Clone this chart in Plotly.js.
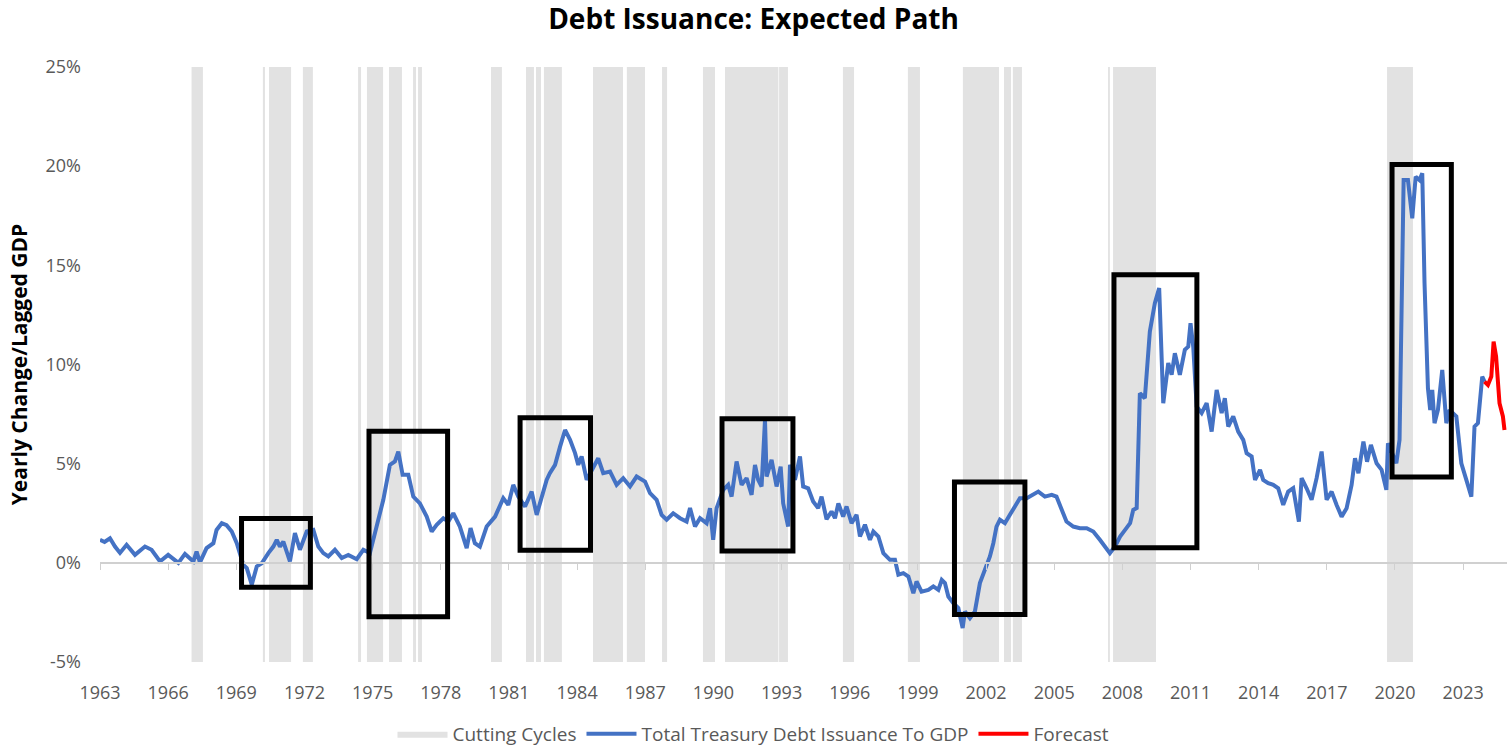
<!DOCTYPE html>
<html>
<head>
<meta charset="utf-8">
<script src="https://cdn.plot.ly/plotly-3.0.1.min.js"></script>
<style>html,body{margin:0;padding:0;background:#fff;}#chart{width:1507px;height:753px;}</style>
</head>
<body>
<div id="chart"></div>
<script>
// ---- data ----
const years = [
1963.00,1963.20,1963.44,1963.66,1963.88,1964.17,1964.54,1964.98,1965.27,1965.64,1966.00,1966.45,1966.74,1967.11,1967.25,1967.40,1967.69,1967.99,
1968.13,1968.36,1968.57,1968.80,1969.02,1969.31,1969.46,1969.68,1969.90,1970.12,1970.41,1970.63,1970.78,1970.92,1971.07,1971.36,1971.58,1971.80,
1972.10,1972.39,1972.61,1972.83,1973.05,1973.34,1973.64,1973.93,1974.30,1974.59,1974.88,1975.18,1975.47,1975.76,1975.98,1976.13,1976.32,1976.57,
1976.79,1977.08,1977.38,1977.60,1977.82,1978.11,1978.33,1978.55,1978.84,1979.14,1979.31,1979.50,1979.72,1980.02,1980.39,1980.75,1980.97,1981.19,
1981.41,1981.71,1982.00,1982.22,1982.44,1982.66,1982.80,1983.03,1983.25,1983.47,1983.69,1983.91,1984.05,1984.20,1984.42,1984.64,1984.93,1985.15,
1985.45,1985.74,1986.03,1986.33,1986.62,1986.99,1987.21,1987.50,1987.72,1987.94,1988.23,1988.53,1988.82,1988.97,1989.19,1989.41,1989.70,1989.85,
1989.99,1990.14,1990.43,1990.65,1990.80,1991.02,1991.24,1991.46,1991.68,1991.83,1991.97,1992.12,1992.27,1992.34,1992.56,1992.78,1992.96,1993.07,
1993.29,1993.37,1993.59,1993.81,1993.95,1994.17,1994.39,1994.61,1994.76,1994.98,1995.20,1995.35,1995.50,1995.71,1995.86,1996.08,1996.30,1996.45,
1996.67,1996.89,1997.04,1997.26,1997.48,1997.77,1997.99,1998.14,1998.36,1998.58,1998.80,1998.94,1999.16,1999.46,1999.68,1999.90,2000.05,2000.19,
2000.34,2000.56,2000.78,2000.97,2001.07,2001.29,2001.51,2001.73,2001.95,2002.17,2002.32,2002.46,2002.61,2002.83,2003.05,2003.27,2003.49,2003.79,
2004.07,2004.30,2004.59,2004.89,2005.10,2005.32,2005.54,2005.84,2006.13,2006.43,2006.72,2007.01,2007.23,2007.45,2007.67,2007.90,2008.12,2008.34,
2008.48,2008.63,2008.77,2008.99,2009.21,2009.43,2009.62,2009.80,2010.02,2010.17,2010.31,2010.53,2010.75,2010.90,2011.00,2011.12,2011.27,2011.49,
2011.71,2011.93,2012.15,2012.37,2012.51,2012.66,2012.88,2013.10,2013.32,2013.47,2013.69,2013.84,2014.06,2014.20,2014.42,2014.64,2014.86,2015.08,
2015.30,2015.52,2015.77,2015.89,2016.11,2016.33,2016.55,2016.77,2016.99,2017.21,2017.43,2017.65,2017.87,2018.09,2018.24,2018.39,2018.61,2018.77,
2018.94,2019.19,2019.41,2019.62,2019.69,2020.06,2020.20,2020.28,2020.38,2020.57,2020.76,2020.91,2021.08,2021.20,2021.30,2021.45,2021.55,2021.64,
2021.74,2021.89,2022.08,2022.26,2022.40,2022.70,2022.92,2023.14,2023.36,2023.50,2023.65,2023.84,2023.94
];
const issuance = [
1.16,1.05,1.24,0.82,0.50,0.91,0.40,0.82,0.66,0.07,0.40,0.00,0.45,0.07,0.57,0.02,0.74,0.99,
1.66,2.00,1.90,1.58,0.99,-0.10,-0.27,-1.10,-0.18,-0.02,0.49,0.82,1.16,0.82,1.07,0.07,1.50,0.66,
1.58,1.66,0.82,0.49,0.32,0.66,0.24,0.40,0.18,0.66,0.49,1.83,3.18,4.94,5.11,5.61,4.44,4.44,
3.34,3.00,2.33,1.58,1.92,2.25,2.08,2.50,1.83,0.74,1.75,0.99,0.82,1.83,2.33,3.26,2.92,3.93,
3.34,2.84,3.59,2.42,3.26,4.18,4.52,4.94,5.86,6.70,6.20,5.53,4.94,5.36,4.18,4.69,5.27,4.52,
4.60,3.93,4.27,3.85,4.35,4.10,3.51,3.18,2.42,2.17,2.50,2.25,2.08,2.76,1.83,2.25,2.00,2.76,
1.16,2.76,3.68,3.93,3.34,5.11,3.93,4.27,3.43,4.94,4.18,3.85,7.20,4.35,5.19,3.85,4.85,3.00,
1.83,4.94,4.18,5.36,3.85,3.76,3.09,2.76,3.34,2.20,2.59,2.25,3.00,2.33,2.84,2.00,2.42,1.33,
1.92,1.16,1.58,1.33,0.49,0.15,0.15,-0.60,-0.52,-0.69,-1.53,-0.94,-1.45,-1.36,-1.19,-1.36,-0.86,-1.02,
-1.70,-2.03,-2.28,-3.29,-2.45,-2.79,-2.45,-1.02,-0.35,0.32,0.99,1.83,2.17,2.00,2.42,2.84,3.26,3.26,
3.43,3.59,3.34,3.43,3.34,2.67,2.08,1.83,1.75,1.75,1.58,1.16,0.82,0.49,0.82,1.33,1.66,2.00,
2.67,2.76,8.55,8.30,11.66,13.09,13.85,8.05,10.07,9.48,10.57,9.48,10.74,10.90,12.08,10.90,7.88,7.55,
8.05,6.62,8.72,7.55,8.30,6.87,7.38,6.62,6.20,5.53,5.36,4.18,4.69,4.18,4.02,3.93,3.76,2.92,
3.59,3.76,2.08,4.27,3.76,3.18,4.27,5.61,3.18,3.59,2.92,2.33,2.75,3.93,5.27,4.52,6.11,5.10,
5.95,5.02,4.69,3.68,6.03,5.02,6.20,12.40,19.30,19.30,17.37,19.47,19.30,19.64,14.10,8.80,7.71,8.72,
7.04,7.71,9.73,7.04,7.71,7.38,5.02,4.18,3.34,6.87,7.04,9.39,9.14
];
const forecastYears = [2023.94,2024.09,2024.24,2024.34,2024.45,2024.60,2024.75,2024.82];
const forecast = [9.14,8.97,9.39,11.15,10.40,8.05,7.38,6.70];

// Cutting cycles (start / end, decimal years)
const cutStart = [1967.03,1970.17,1970.44,1971.93,1974.36,1974.75,1975.72,1976.78,1977.00,1980.21,1981.75,1982.19,1982.54,1984.70,1986.19,1987.74,1989.54,1990.51,1992.89,1995.70,1998.56,2000.98,2002.79,2003.18,2007.37,2007.59,2019.65];
const cutEnd   = [1967.53,1970.26,1971.41,1972.37,1974.49,1975.46,1976.29,1976.91,1977.17,1980.69,1982.10,1982.41,1983.33,1986.02,1986.99,1987.96,1990.07,1992.86,1993.28,1996.19,1999.09,2002.57,2003.10,2003.58,2007.45,2009.48,2020.79];

// Highlight boxes (data coordinates: years, %)
const boxX0 = [1969.23,1974.84,1981.49,1990.38,2000.61,2007.63,2019.87];
const boxX1 = [1972.26,1978.30,1984.59,1993.50,2003.71,2011.28,2022.48];
const boxY0 = [-1.23,-2.72,0.63,0.60,-2.60,0.76,4.33];
const boxY1 = [2.24,6.64,7.31,7.26,4.08,14.52,20.09];

const tickYears = [1963,1966,1969,1972,1975,1978,1981,1984,1987,1990,1993,1996,1999,2002,2005,2008,2011,2014,2017,2020,2023];
const yTicks = [-5,0,5,10,15,20,25];

// ---- chart ----
const Y_MIN = -5, Y_MAX = 25;
const X_MIN = 1963, X_MAX = 2024.93;
const FONT = 'Open Sans, Noto Sans, sans-serif';
const GREY_TXT = '#595959';

// cutting-cycle rectangles as one filled trace (segments separated by gaps)
const cutX = [], cutY = [];
cutStart.forEach((s, i) => {
  cutX.push(s, s, cutEnd[i], cutEnd[i], s, null);
  cutY.push(Y_MIN, Y_MAX, Y_MAX, Y_MIN, Y_MIN, null);
});

const traces = [
  {
    type: 'scatter', mode: 'lines', name: 'Cutting Cycles',
    x: cutX, y: cutY, fill: 'toself', fillcolor: '#e2e2e2',
    line: {width: 0, color: '#e2e2e2'}, connectgaps: false,
    hoverinfo: 'skip'
  },
  {
    type: 'scatter', mode: 'markers', x: tickYears, y: tickYears.map(() => 0),
    xaxis: 'x2', marker: {opacity: 0}, showlegend: false, hoverinfo: 'skip'
  },
  {
    type: 'scatter', mode: 'lines', name: 'Total Treasury Debt Issuance To GDP',
    x: years, y: issuance,
    line: {color: '#4472c4', width: 4}
  },
  {
    type: 'scatter', mode: 'lines', name: 'Forecast',
    x: forecastYears, y: forecast,
    line: {color: '#ff0000', width: 4}
  }
];

const shapes = boxX0.map((x0, i) => ({
  type: 'rect', xref: 'x', yref: 'y',
  x0: x0, x1: boxX1[i], y0: boxY0[i], y1: boxY1[i],
  line: {color: '#000000', width: 5}, fillcolor: 'rgba(0,0,0,0)', layer: 'above'
}));

const layout = {
  width: 1507, height: 753,
  margin: {l: 100, r: 0, t: 67, b: 91},
  paper_bgcolor: '#ffffff', plot_bgcolor: '#ffffff',
  font: {family: FONT, color: GREY_TXT},
  title: {
    text: '<b>Debt Issuance: Expected Path</b>',
    font: {family: FONT, size: 28, color: '#000000'},
    x: 0.5, xref: 'container', xanchor: 'center',
    y: 1 - 19 / 753, yref: 'container', yanchor: 'middle'
  },
  xaxis: {
    range: [X_MIN, X_MAX],
    tickmode: 'array', tickvals: tickYears, ticktext: tickYears.map(String),
    showgrid: false, zeroline: false, showline: false, ticks: '',
    tickfont: {family: FONT, size: 18, color: GREY_TXT},
    ticklabelstandoff: 18,
    fixedrange: true
  },
  xaxis2: {
    matches: 'x', overlaying: 'x', anchor: 'free',
    position: (0 - Y_MIN) / (Y_MAX - Y_MIN),
    range: [X_MIN, X_MAX],
    tickmode: 'array', tickvals: tickYears,
    showticklabels: false, showgrid: false, zeroline: false,
    showline: true, linecolor: '#d0d0d0', linewidth: 2,
    ticks: 'outside', ticklen: 6, tickwidth: 1, tickcolor: '#d0d0d0'
  },
  yaxis: {
    range: [Y_MIN, Y_MAX],
    tickmode: 'array', tickvals: yTicks, ticktext: yTicks.map(v => v + '%'),
    showgrid: false, zeroline: false, showline: false, ticks: '',
    tickfont: {family: FONT, size: 18, color: GREY_TXT},
    ticklabelstandoff: 18,
    title: {
      text: '<b>Yearly Change/Lagged GDP</b>',
      font: {family: FONT, size: 21, color: '#000000'},
      standoff: 12
    },
    fixedrange: true
  },
  legend: {
    orientation: 'h',
    x: 0.5, xref: 'container', xanchor: 'center',
    y: 0, yref: 'container', yanchor: 'bottom',
    font: {family: FONT, size: 19, color: GREY_TXT},
    itemwidth: 50,
    traceorder: 'normal'
  },
  showlegend: true,
  shapes: shapes
};

Plotly.newPlot('chart', traces, layout, {displayModeBar: false, staticPlot: true});
</script>
</body>
</html>
